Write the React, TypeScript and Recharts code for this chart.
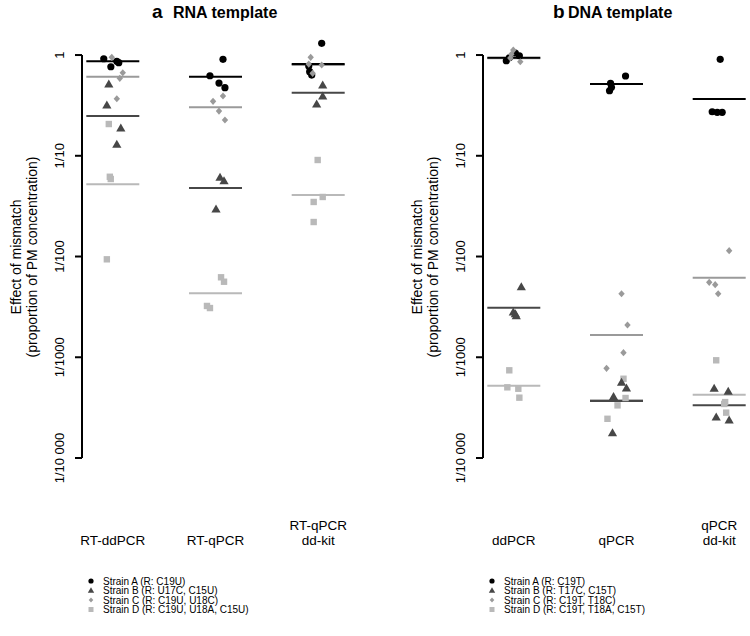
import { ScatterChart, Scatter, XAxis, YAxis, ReferenceLine } from 'recharts';

const FONT = 'Arial, "Liberation Sans", Helvetica, sans-serif';

// categories ("|" = line break)
const rnaMethods = ['RT-ddPCR', 'RT-qPCR', 'RT-qPCR|dd-kit'];
const dnaMethods = ['ddPCR', 'qPCR', 'qPCR|dd-kit'];

const yTicks = [1, 0.1, 0.01, 0.001, 0.0001];
const yTickLabels = ['1', '1/10', '1/100', '1/1000', '1/10 000'];

const rnaLegend = ['Strain A (R: C19U)', 'Strain B (R: U17C, C15U)', 'Strain C (R: C19U, U18C)', 'Strain D (R: C19U, U18A, C15U)'];
const dnaLegend = ['Strain A (R: C19T)', 'Strain B (R: T17C, C15T)', 'Strain C (R: C19T, T18C)', 'Strain D (R: C19T, T18A, C15T)'];

// RNA template: values per method, jitter in category units
const rnaA = [[0.919, 0.866, 0.839, 0.765], [0.906, 0.623, 0.527, 0.474], [1.306, 0.778, 0.683, 0.633]];
const rnaAJit = [[-0.088, 0.039, 0.058, -0.019], [0.073, -0.054, 0.034, 0.092], [0.034, -0.092, -0.083, -0.063]];
const rnaB = [[0.515, 0.319, 0.1886, 0.13], [0.0611, 0.0565, 0.0296], [0.504, 0.392, 0.326]];
const rnaBJit = [[-0.039, -0.058, 0.078, 0.039], [0.044, 0.083, 0.005], [0.044, 0.044, -0.015]];
const rnaC = [[0.949, 0.667, 0.587, 0.368], [0.392, 0.347, 0.278, 0.2264], [0.949, 0.796, 0.658, 0.814]];
const rnaCJit = [[-0.01, 0.097, 0.068, 0.039], [0.073, -0.024, 0.034, 0.092], [-0.073, 0.034, -0.054, -0.092]];
const rnaD = [[0.2066, 0.0619, 0.0588, 0.00938], [0.00622, 0.00562, 0.00323, 0.00308], [0.0908, 0.039, 0.0348, 0.022]];
const rnaDJit = [[-0.039, -0.029, -0.02, -0.058], [0.054, 0.083, -0.083, -0.054], [-0.005, 0.044, -0.044, -0.044]];
const rnaMeanA = [0.866, 0.609, 0.814];
const rnaMeanB = [0.248, 0.0479, 0.422];
const rnaMeanC = [0.609, 0.303, 0.796];
const rnaMeanD = [0.0521, 0.00431, 0.0408];

// DNA template
const dnaA = [[0.878, 0.94, 0.984, 1.047], [0.619, 0.524, 0.478, 0.442], [0.906, 0.2736, 0.27, 0.27]];
const dnaAJit = [[-0.073, -0.044, 0.054, 0.015], [0.088, -0.058, -0.049, -0.068], [0.01, -0.068, -0.019, 0.029]];
const dnaB = [[0.00501, 0.00269, 0.00258, 0.00281], [0.000564, 0.000495, 0.000406, 0.000178], [0.000492, 0.000459, 0.000254, 0.000238]];
const dnaBJit = [[0.073, 0.015, 0.024, -0.005], [0.049, 0.097, -0.029, -0.039], [-0.049, 0.088, -0.029, 0.097]];
const dnaC = [[1.121, 1.016, 0.858, 0.934], [0.00427, 0.00209, 0.00111, 0.000777], [0.01142, 0.00555, 0.00525, 0.00427]];
const dnaCJit = [[-0.005, -0.024, 0.063, -0.034], [0.049, 0.107, 0.068, -0.097], [0.097, -0.097, -0.039, -0.01]];
const dnaD = [[0.000742, 0.000503, 0.000487, 0.000397], [0.000612, 0.000394, 0.000333, 0.000245], [0.000933, 0.000359, 0.000282, 0.000344]];
const dnaDJit = [[-0.044, -0.063, 0.044, 0.054], [0.068, 0.088, 0.01, -0.088], [-0.029, 0.058, 0.068, 0.049]];
const dnaMeanA = [0.94, 0.515, 0.366];
const dnaMeanB = [0.0031, 0.000368, 0.000333];
const dnaMeanC = [0.93, 0.00166, 0.00616];
const dnaMeanD = [0.000522, 0.000376, 0.000425];

const COL_A = '#000000';
const COL_B = '#474747';
const COL_C = '#9a9a9a';
const COL_D = '#b9b9b9';

const toPoints = (vals: number[][], jit: number[][]) =>
    vals.flatMap((row, i) => row.map((v, j) => ({ x: i + 1 + jit[i][j], y: v })));
const toMeans = (vals: number[]) => vals.map((v, i) => ({ x: i + 1, y: v }));

const circleShape = (p: any) => <circle cx={p.cx} cy={p.cy} r={3.6} fill={COL_A} />;
const triShape = (p: any) => (
    <polygon points={`${p.cx},${p.cy - 4.6} ${p.cx + 4.6},${p.cy + 3.4} ${p.cx - 4.6},${p.cy + 3.4}`} fill={COL_B} />
);
const diaShape = (p: any) => (
    <polygon points={`${p.cx},${p.cy - 3.6} ${p.cx + 3.2},${p.cy} ${p.cx},${p.cy + 3.6} ${p.cx - 3.2},${p.cy}`} fill={COL_C} />
);
const sqShape = (p: any) => <rect x={p.cx - 3.2} y={p.cy - 3.2} width={6.4} height={6.4} fill={COL_D} />;
const meanShape = (color: string) => (p: any) => (
    <line x1={p.cx - 26.5} x2={p.cx + 26.5} y1={p.cy} y2={p.cy} stroke={color} strokeWidth={2} />
);

const yTick = (p: any) => {
    const label = yTickLabels[yTicks.indexOf(p.payload.value)];
    return (
        <text x={0} y={0} transform={`translate(${p.x - 9.5},${p.y}) rotate(-90)`} textAnchor="middle"
            fontSize={13} fontFamily={FONT} fill="#000">{label}</text>
    );
};

const catTick = (methods: string[]) => (p: any) => {
    const lines = methods[p.payload.value - 1].split('|');
    return (
        <text x={p.x} y={p.y} textAnchor="middle" fontSize={13.5} fontFamily={FONT} fill="#000">
            {lines.map((l, k) => (
                <tspan key={k} x={p.x} y={p.y + 87 - (lines.length - 1 - k) * 15.5}>{l}</tspan>
            ))}
        </text>
    );
};

interface PanelProps {
    left: number;
    marginLeft: number;
    marginRight: number;
    methods: string[];
    a: number[][]; aj: number[][];
    b: number[][]; bj: number[][];
    c: number[][]; cj: number[][];
    d: number[][]; dj: number[][];
    ma: number[]; mb: number[]; mc: number[]; md: number[];
}

function Panel(props: PanelProps) {
    return (
        <div style={{ position: 'absolute', left: props.left, top: 0 }}>
            <ScatterChart width={375} height={636}
                margin={{ top: 40, right: props.marginRight, bottom: 148, left: props.marginLeft }}>
                <XAxis type="number" dataKey="x" domain={[0.7, 3.3]} ticks={[1, 2, 3]} interval={0}
                    axisLine={false} tickLine={false} tickSize={0} tickMargin={0} height={30}
                    tick={catTick(props.methods)} />
                <YAxis type="number" dataKey="y" scale="log" domain={[0.0001, 1.41]} ticks={yTicks} interval={0}
                    axisLine={false} tickLine={{ stroke: '#000', strokeWidth: 2 }} tickSize={7} tickMargin={2}
                    width={30} tick={yTick} />
                <ReferenceLine segment={[{ x: 0.7, y: 0.0001 }, { x: 0.7, y: 1 }]} stroke="#000" strokeWidth={2} />
                <Scatter data={toMeans(props.md)} shape={meanShape(COL_D)} isAnimationActive={false} />
                <Scatter data={toMeans(props.mc)} shape={meanShape(COL_C)} isAnimationActive={false} />
                <Scatter data={toMeans(props.mb)} shape={meanShape(COL_B)} isAnimationActive={false} />
                <Scatter data={toMeans(props.ma)} shape={meanShape(COL_A)} isAnimationActive={false} />
                <Scatter data={toPoints(props.d, props.dj)} shape={sqShape} isAnimationActive={false} />
                <Scatter data={toPoints(props.b, props.bj)} shape={triShape} isAnimationActive={false} />
                <Scatter data={toPoints(props.a, props.aj)} shape={circleShape} isAnimationActive={false} />
                <Scatter data={toPoints(props.c, props.cj)} shape={diaShape} isAnimationActive={false} />
            </ScatterChart>
        </div>
    );
}

function LegendBlock({ x, labels }: { x: number; labels: string[] }) {
    const rows = [581, 590.5, 600, 609.5];
    return (
        <g>
            <circle cx={x} cy={rows[0]} r={2.6} fill={COL_A} />
            <polygon points={`${x},${rows[1] - 3.2} ${x + 3.2},${rows[1] + 2.3} ${x - 3.2},${rows[1] + 2.3}`} fill={COL_B} />
            <polygon points={`${x},${rows[2] - 2.6} ${x + 2.3},${rows[2]} ${x},${rows[2] + 2.6} ${x - 2.3},${rows[2]}`} fill={COL_C} />
            <rect x={x - 2.5} y={rows[3] - 2.5} width={5} height={5} fill={COL_D} />
            {labels.map((l, i) => (
                <text key={i} x={x + 12} y={rows[i] + 3.5} fontSize={10} fontFamily={FONT} fill="#000">{l}</text>
            ))}
        </g>
    );
}

function YTitle({ x }: { x: number }) {
    return (
        <g fontSize={14} fontFamily={FONT} fill="#000">
            <text x={0} y={0} transform={`translate(${x},257) rotate(-90)`} textAnchor="middle">Effect of mismatch</text>
            <text x={0} y={0} transform={`translate(${x + 16},257) rotate(-90)`} textAnchor="middle">(proportion of PM concentration)</text>
        </g>
    );
}

export default function App() {
    return (
        <div style={{ position: 'absolute', left: 0, top: 0, width: 750, height: 636, background: '#fff', overflow: 'hidden' }}>
            <Panel left={0} marginLeft={52} marginRight={26} methods={rnaMethods}
                a={rnaA} aj={rnaAJit} b={rnaB} bj={rnaBJit} c={rnaC} cj={rnaCJit} d={rnaD} dj={rnaDJit}
                ma={rnaMeanA} mb={rnaMeanB} mc={rnaMeanC} md={rnaMeanD} />
            <Panel left={375} marginLeft={78} marginRight={0} methods={dnaMethods}
                a={dnaA} aj={dnaAJit} b={dnaB} bj={dnaBJit} c={dnaC} cj={dnaCJit} d={dnaD} dj={dnaDJit}
                ma={dnaMeanA} mb={dnaMeanB} mc={dnaMeanC} md={dnaMeanD} />
            <svg width={750} height={636} style={{ position: 'absolute', left: 0, top: 0, pointerEvents: 'none' }}>
                <g fontFamily={FONT} fontWeight="bold" fill="#000">
                    <text x={152} y={18} fontSize={19}>a</text>
                    <text x={173} y={18} fontSize={16}>RNA template</text>
                    <text x={553} y={18} fontSize={19}>b</text>
                    <text x={568} y={18} fontSize={16}>DNA template</text>
                </g>
                <YTitle x={21} />
                <YTitle x={422} />
                <LegendBlock x={91} labels={rnaLegend} />
                <LegendBlock x={492} labels={dnaLegend} />
            </svg>
        </div>
    );
}
